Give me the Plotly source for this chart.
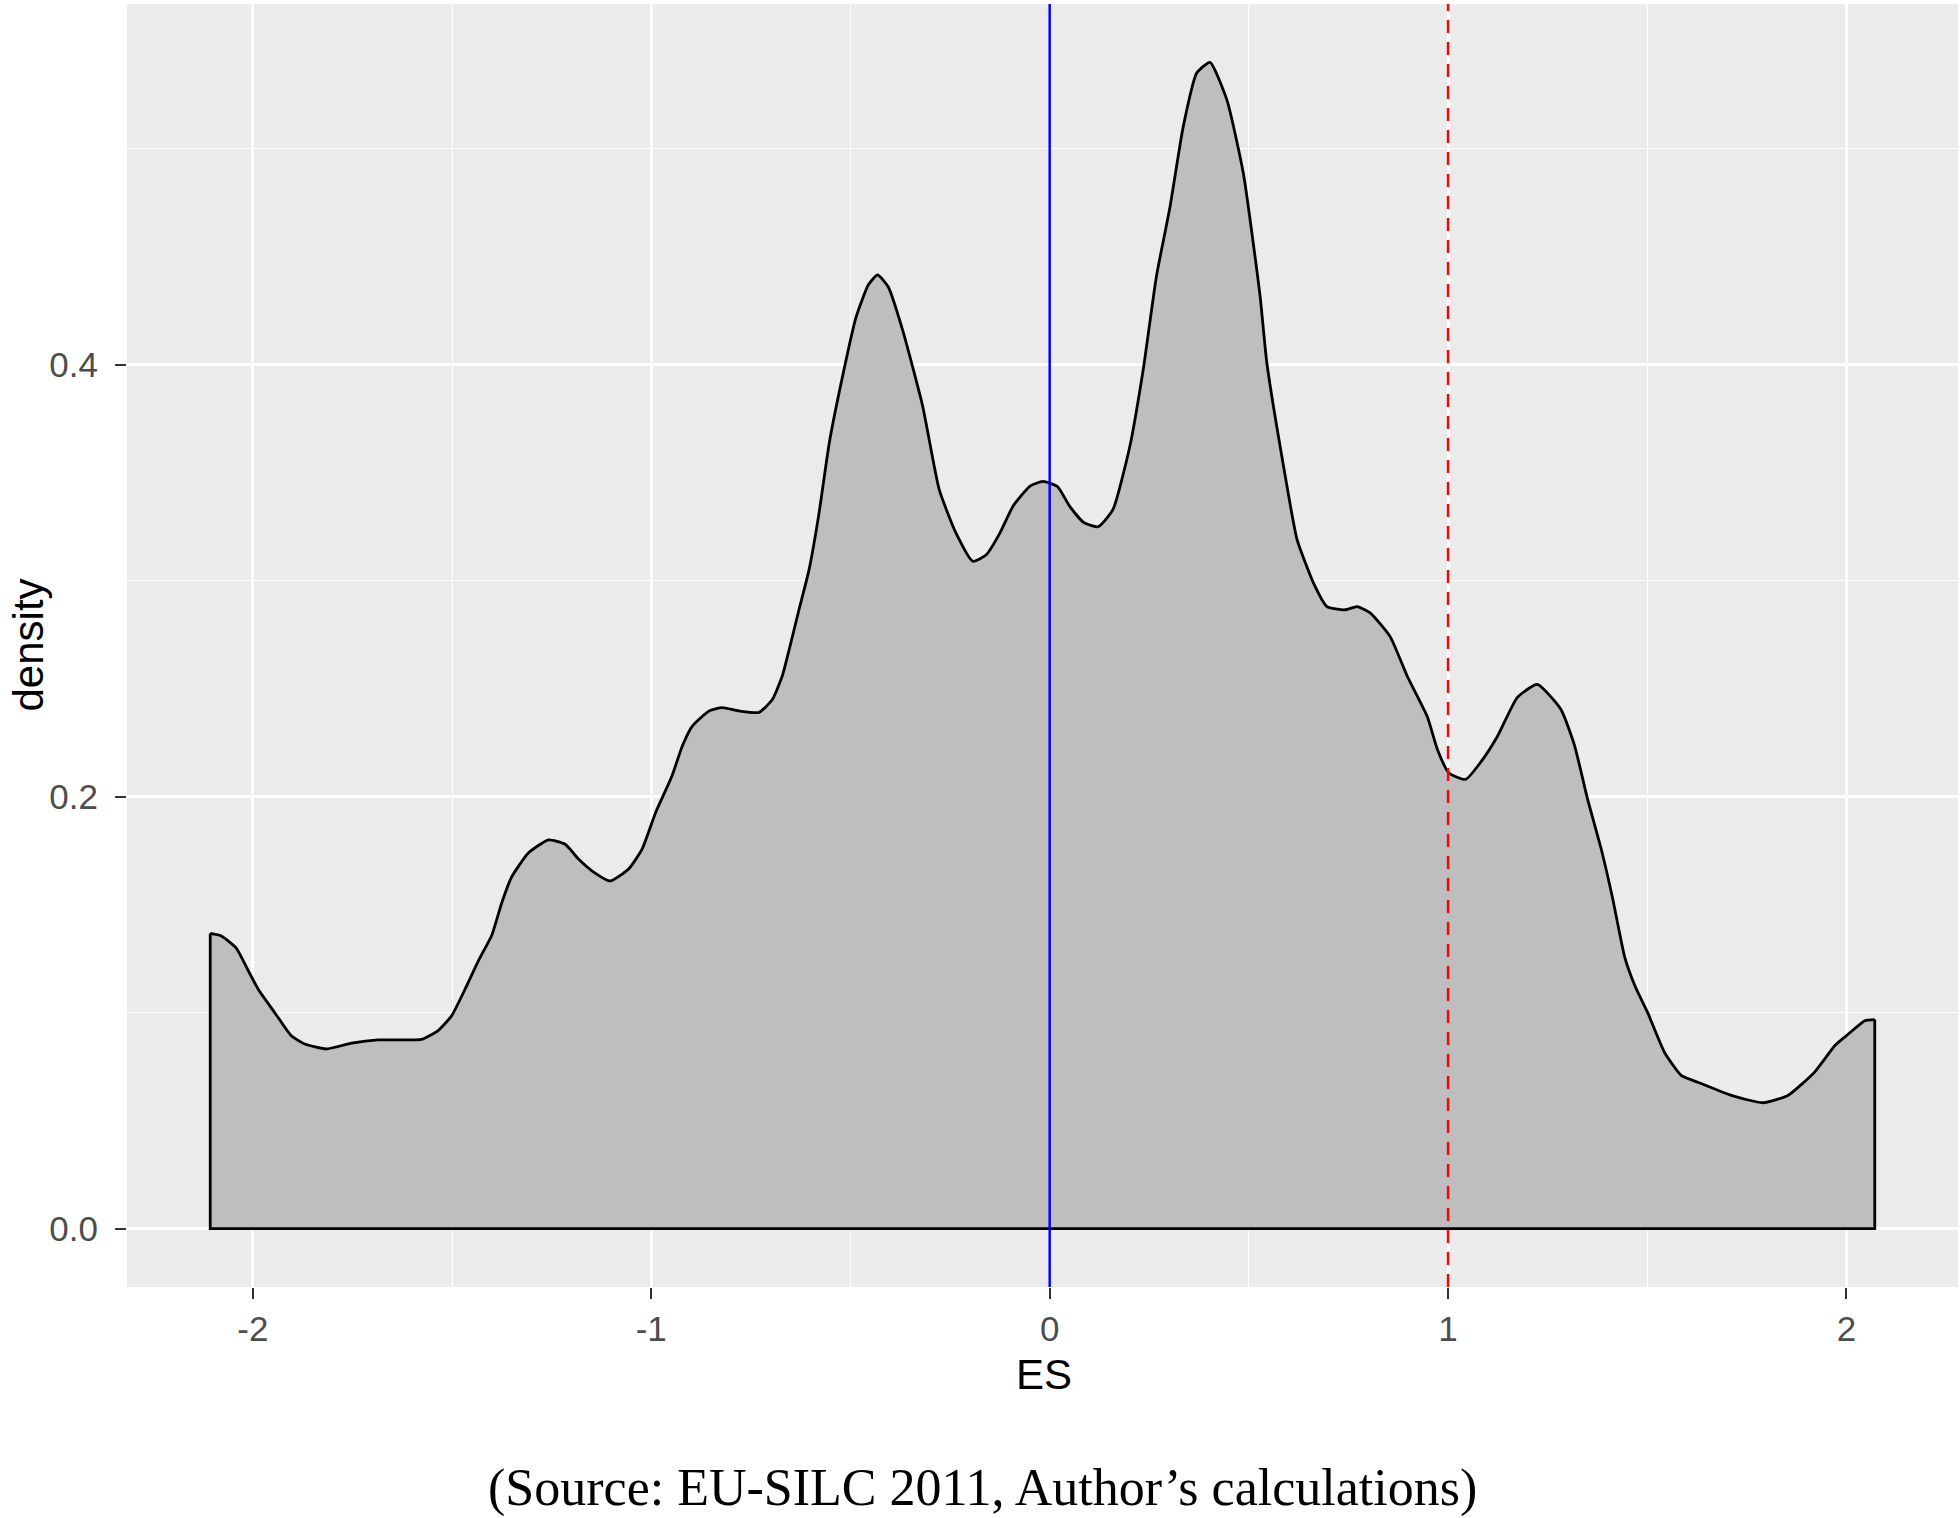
import plotly.graph_objects as go

# ---- data ----
es = [-2.107, -2.080, -2.042, -2.013, -1.987, -1.945, -1.904, -1.870, -1.816, -1.752,
      -1.686, -1.620, -1.577, -1.535, -1.501, -1.467, -1.434, -1.400, -1.375, -1.350,
      -1.308, -1.258, -1.216, -1.182, -1.149, -1.103, -1.057, -1.023, -0.989, -0.948,
      -0.922, -0.897, -0.855, -0.822, -0.780, -0.730, -0.696, -0.671, -0.654, -0.629,
      -0.604, -0.580, -0.553, -0.524, -0.486, -0.455, -0.432, -0.405, -0.369, -0.319,
      -0.277, -0.235, -0.193, -0.159, -0.125, -0.092, -0.050, -0.017, 0.020, 0.050,
      0.085, 0.122, 0.159, 0.201, 0.235, 0.268, 0.302, 0.335, 0.369, 0.4025,
      0.445, 0.486, 0.528, 0.545, 0.587, 0.621, 0.662, 0.696, 0.740, 0.772,
      0.805, 0.855, 0.897, 0.948, 0.973, 1.002, 1.044, 1.082, 1.124, 1.174,
      1.224, 1.283, 1.317, 1.350, 1.384, 1.413, 1.443, 1.470, 1.501, 1.543,
      1.585, 1.627, 1.711, 1.790, 1.853, 1.920, 1.971, 2.004, 2.046, 2.071]
density = [0.1367, 0.1356, 0.130, 0.120, 0.111, 0.100, 0.0894, 0.0855, 0.0832, 0.0859,
           0.0874, 0.0874, 0.0876, 0.0917, 0.0986, 0.111, 0.124, 0.136, 0.151, 0.163,
           0.174, 0.180, 0.178, 0.171, 0.1657, 0.161, 0.1665, 0.1757, 0.1927, 0.2096,
           0.2235, 0.2327, 0.2397, 0.2412, 0.2397, 0.239, 0.245, 0.256, 0.268, 0.2867,
           0.305, 0.330, 0.364, 0.391, 0.422, 0.437, 0.4416, 0.436, 0.416, 0.381,
           0.342, 0.322, 0.309, 0.312, 0.322, 0.3345, 0.3437, 0.346, 0.3435, 0.3345,
           0.327, 0.325, 0.333, 0.362, 0.398, 0.441, 0.473, 0.510, 0.535, 0.540,
           0.5225, 0.4887, 0.432, 0.401, 0.353, 0.319, 0.299, 0.288, 0.2865, 0.288,
           0.285, 0.274, 0.256, 0.237, 0.222, 0.211, 0.208, 0.216, 0.228, 0.246,
           0.252, 0.2405, 0.224, 0.199, 0.176, 0.153, 0.126, 0.112, 0.100, 0.0817,
           0.071, 0.0678, 0.0617, 0.0583, 0.0617, 0.0725, 0.0848, 0.090, 0.0963, 0.0968]

x_tick_vals = [-2, -1, 0, 1, 2]
x_tick_text = ["-2", "-1", "0", "1", "2"]
y_tick_vals = [0.0, 0.2, 0.4]
y_tick_text = ["0.0", "0.2", "0.4"]
blue_line_at = [0]
red_line_at = [1]
x_title = "ES"
y_title = "density"
caption = "(Source: EU-SILC 2011, Author\u2019s calculations)"

# ---- figure ----
W, H = 1960, 1518
L, R, T, B = 127, 2, 4, 231
plot_w = W - L - R
plot_h = H - T - B

x_min, x_max = min(es), max(es)
y_max = max(density)
x_pad = 0.05 * (x_max - x_min)
y_pad = 0.05 * y_max

x_minor = [(a + b) / 2 for a, b in zip(x_tick_vals[:-1], x_tick_vals[1:])]
y_step = y_tick_vals[1] - y_tick_vals[0]
y_minor = [v + y_step / 2 for v in y_tick_vals]

fig = go.Figure()
fig.add_trace(go.Scatter(
    x=es, y=density, mode="lines",
    line=dict(color="black", width=2.8, shape="spline", smoothing=0.5),
    fill="tozeroy", fillcolor="#BEBEBE", hoverinfo="skip", showlegend=False))
fig.add_trace(go.Scatter(
    x=[es[0], es[0], es[-1], es[-1]], y=[density[0], 0, 0, density[-1]],
    mode="lines", line=dict(color="black", width=2.8),
    hoverinfo="skip", showlegend=False))

for v in blue_line_at:
    fig.add_vline(x=v, line=dict(color="#0000FF", width=2.5))
for v in red_line_at:
    fig.add_vline(x=v, line=dict(color="#FF0000", width=2.5, dash="13px,9px"))

tick_font = dict(family="Liberation Sans, Arial, sans-serif", size=35, color="#4D4D4D")
common = dict(
    showgrid=True, gridcolor="white", gridwidth=2.6,
    zeroline=False, showline=False, automargin=False,
    ticks="outside", ticklen=11, tickwidth=2, tickcolor="#333333",
    tickfont=tick_font,
)

fig.update_xaxes(
    range=[x_min - x_pad, x_max + x_pad],
    tickmode="array", tickvals=x_tick_vals, ticktext=x_tick_text,
    minor=dict(tickmode="array", tickvals=x_minor, showgrid=True,
               gridcolor="white", gridwidth=1.3, ticks=""),
    ticklabelstandoff=0,
    **common)
fig.update_yaxes(
    range=[-y_pad, y_max + y_pad * 1.0],
    tickmode="array", tickvals=y_tick_vals, ticktext=y_tick_text,
    minor=dict(tickmode="array", tickvals=y_minor, showgrid=True,
               gridcolor="white", gridwidth=1.3, ticks=""),
    ticklabelstandoff=10,
    **common)

title_font = dict(family="Liberation Sans, Arial, sans-serif", size=42, color="black")
fig.update_layout(
    width=W, height=H,
    margin=dict(l=L, r=R, t=T, b=B, pad=0, autoexpand=False),
    paper_bgcolor="white", plot_bgcolor="#EBEBEB",
    showlegend=False,
    annotations=[
        dict(text=x_title, xref="paper", yref="paper",
             x=(1044 - L) / plot_w, y=(H - B - 1374) / plot_h,
             xanchor="center", yanchor="middle", showarrow=False, font=title_font),
        dict(text=y_title, xref="paper", yref="paper",
             x=(28 - L) / plot_w, y=0.5, textangle=-90,
             xanchor="center", yanchor="middle", showarrow=False, font=title_font),
        dict(text=caption, xref="paper", yref="paper",
             x=(982 - L) / plot_w, y=(H - B - 1488) / plot_h,
             xanchor="center", yanchor="middle", showarrow=False,
             font=dict(family="Liberation Serif, Times New Roman, serif", size=52, color="black")),
    ],
)

fig.write_html(
    "out.html",
    config={"displayModeBar": False},
    post_script="document.body.style.margin='0px';document.body.style.overflow='hidden';",
)
